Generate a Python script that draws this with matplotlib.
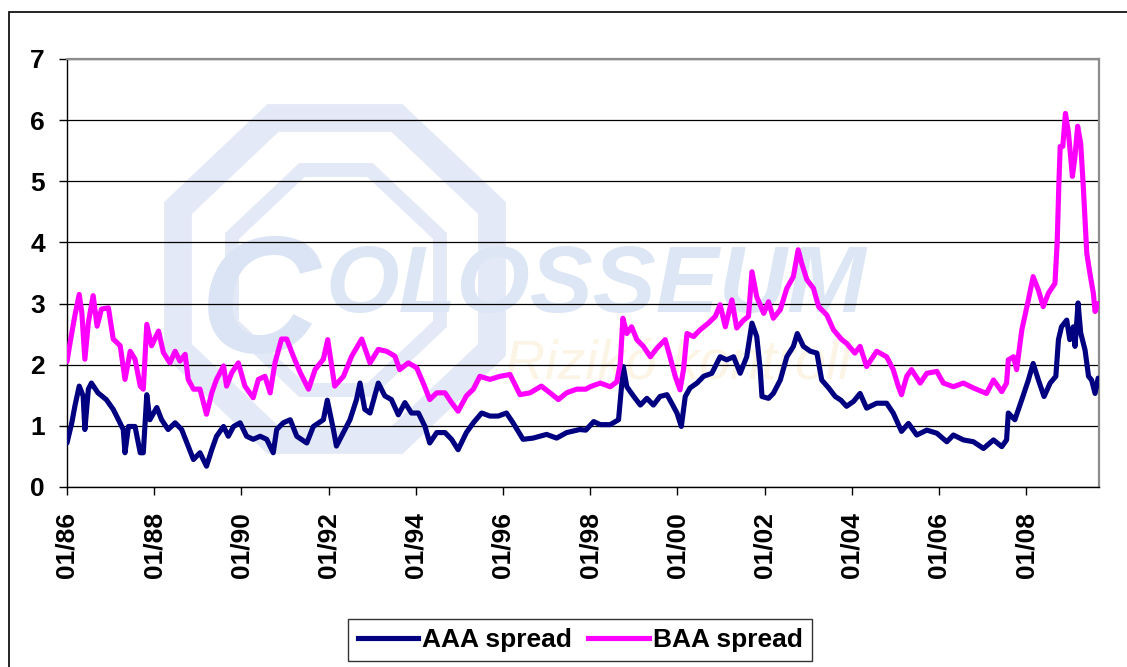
import matplotlib
matplotlib.use("Agg")
import matplotlib.pyplot as plt
from matplotlib.patches import Rectangle, Polygon
from matplotlib.lines import Line2D

plt.rcParams['font.family'] = ['Liberation Sans', 'DejaVu Sans']

# ---------------- data ----------------
baa_t = [1986.00, 1986.07, 1986.18, 1986.28, 1986.34, 1986.41, 1986.49, 1986.60, 1986.69, 1986.79,
         1986.95, 1987.06, 1987.22, 1987.33, 1987.45, 1987.56, 1987.68, 1987.75, 1987.83, 1987.94,
         1988.10, 1988.21, 1988.36, 1988.48, 1988.59, 1988.71, 1988.78, 1988.90, 1989.05, 1989.20,
         1989.32, 1989.43, 1989.59, 1989.66, 1989.78, 1989.93, 1990.08, 1990.27, 1990.39, 1990.54,
         1990.66, 1990.77, 1990.92, 1991.04, 1991.19, 1991.35, 1991.54, 1991.69, 1991.88, 1991.98,
         1992.14, 1992.34, 1992.53, 1992.76, 1992.95, 1993.14, 1993.33, 1993.52, 1993.63, 1993.83,
         1994.02, 1994.17, 1994.32, 1994.48, 1994.67, 1994.82, 1994.97, 1995.16, 1995.32, 1995.47,
         1995.70, 1995.93, 1996.16, 1996.39, 1996.62, 1996.88, 1997.08, 1997.27, 1997.46, 1997.69,
         1997.90, 1998.00, 1998.23, 1998.46, 1998.61, 1998.69, 1998.75, 1998.84, 1998.95, 1999.07,
         1999.22, 1999.38, 1999.53, 1999.72, 1999.83, 1999.95, 2000.06, 2000.14, 2000.22, 2000.37,
         2000.52, 2000.71, 2000.87, 2000.98, 2001.10, 2001.25, 2001.36, 2001.52, 2001.63, 2001.71,
         2001.82, 2001.98, 2002.09, 2002.20, 2002.36, 2002.51, 2002.66, 2002.77, 2002.85, 2002.97,
         2003.12, 2003.24, 2003.43, 2003.58, 2003.77, 2003.88, 2004.07, 2004.19, 2004.34, 2004.57,
         2004.80, 2004.95, 2005.07, 2005.14, 2005.26, 2005.37, 2005.57, 2005.72, 2005.95, 2006.10,
         2006.33, 2006.56, 2006.79, 2007.09, 2007.25, 2007.44, 2007.55, 2007.59, 2007.71, 2007.78,
         2007.90, 2008.05, 2008.16, 2008.28, 2008.39, 2008.51, 2008.66, 2008.71, 2008.75, 2008.78,
         2008.84, 2008.90, 2008.97, 2009.06, 2009.12, 2009.18, 2009.25, 2009.31, 2009.39, 2009.46,
         2009.54, 2009.58, 2009.65]
baa_v = [2.05, 2.36, 2.80, 3.15, 2.85, 2.09, 2.69, 3.13, 2.63, 2.91,
         2.93, 2.42, 2.31, 1.76, 2.22, 2.09, 1.65, 1.60, 2.66, 2.31,
         2.55, 2.20, 2.03, 2.22, 2.06, 2.17, 1.76, 1.60, 1.60, 1.19,
         1.54, 1.76, 1.98, 1.65, 1.87, 2.03, 1.65, 1.46, 1.76, 1.81,
         1.54, 2.03, 2.42, 2.42, 2.14, 1.87, 1.60, 1.92, 2.09, 2.41,
         1.65, 1.81, 2.14, 2.42, 2.03, 2.25, 2.22, 2.14, 1.92, 2.03,
         1.95, 1.70, 1.43, 1.54, 1.54, 1.38, 1.24, 1.49, 1.60, 1.81,
         1.76, 1.81, 1.84, 1.51, 1.54, 1.65, 1.54, 1.43, 1.54, 1.60,
         1.60, 1.64, 1.70, 1.64, 1.72, 2.02, 2.76, 2.51, 2.62, 2.41,
         2.30, 2.13, 2.27, 2.41, 2.13, 1.81, 1.59, 1.92, 2.51, 2.46,
         2.57, 2.68, 2.79, 2.98, 2.62, 3.06, 2.60, 2.73, 2.79, 3.52,
         3.11, 2.84, 3.03, 2.76, 2.90, 3.25, 3.44, 3.88, 3.66, 3.39,
         3.25, 2.95, 2.81, 2.57, 2.41, 2.35, 2.19, 2.30, 1.97, 2.22,
         2.13, 1.92, 1.64, 1.51, 1.81, 1.92, 1.70, 1.86, 1.89, 1.70,
         1.64, 1.70, 1.62, 1.53, 1.75, 1.56, 1.70, 2.08, 2.13, 1.92,
         2.57, 3.06, 3.44, 3.22, 2.95, 3.17, 3.33, 3.99, 4.97, 5.57,
         5.57, 6.11, 5.79, 5.08, 5.41, 5.90, 5.62, 4.91, 3.82, 3.50,
         3.17, 2.87, 3.00]

aaa_t = [1986.00, 1986.11, 1986.18, 1986.28, 1986.37, 1986.41, 1986.49, 1986.56, 1986.71, 1986.90,
         1987.06, 1987.18, 1987.29, 1987.33, 1987.41, 1987.56, 1987.68, 1987.75, 1987.83, 1987.90,
         1988.06, 1988.17, 1988.32, 1988.48, 1988.63, 1988.78, 1988.90, 1989.05, 1989.20, 1989.32,
         1989.43, 1989.59, 1989.70, 1989.82, 1989.97, 1990.12, 1990.27, 1990.43, 1990.58, 1990.73,
         1990.81, 1990.96, 1991.12, 1991.27, 1991.50, 1991.65, 1991.88, 1991.97, 1992.11, 1992.18,
         1992.34, 1992.49, 1992.64, 1992.72, 1992.83, 1992.95, 1993.14, 1993.29, 1993.44, 1993.60,
         1993.75, 1993.90, 1994.06, 1994.21, 1994.32, 1994.48, 1994.67, 1994.82, 1994.97, 1995.16,
         1995.32, 1995.51, 1995.70, 1995.89, 1996.08, 1996.23, 1996.46, 1996.69, 1997.00, 1997.23,
         1997.46, 1997.76, 1997.90, 1998.08, 1998.23, 1998.46, 1998.65, 1998.76, 1998.84, 1999.00,
         1999.15, 1999.30, 1999.45, 1999.60, 1999.76, 1999.87, 1999.99, 2000.09, 2000.18, 2000.29,
         2000.45, 2000.60, 2000.79, 2000.98, 2001.13, 2001.29, 2001.44, 2001.59, 2001.71, 2001.82,
         2001.90, 2001.94, 2002.09, 2002.20, 2002.36, 2002.51, 2002.66, 2002.75, 2002.89, 2003.05,
         2003.20, 2003.31, 2003.47, 2003.62, 2003.75, 2003.88, 2004.04, 2004.19, 2004.34, 2004.57,
         2004.80, 2004.95, 2005.14, 2005.30, 2005.49, 2005.72, 2005.95, 2006.18, 2006.33, 2006.56,
         2006.79, 2007.02, 2007.25, 2007.44, 2007.55, 2007.59, 2007.74, 2007.90, 2008.05, 2008.16,
         2008.28, 2008.41, 2008.55, 2008.68, 2008.74, 2008.81, 2008.93, 2009.00, 2009.08, 2009.12,
         2009.19, 2009.25, 2009.35, 2009.43, 2009.50, 2009.58, 2009.65]
aaa_v = [0.72, 1.05, 1.32, 1.65, 1.49, 0.94, 1.60, 1.70, 1.54, 1.43,
         1.27, 1.10, 0.94, 0.56, 0.99, 0.99, 0.56, 0.56, 1.51, 1.10,
         1.30, 1.10, 0.94, 1.05, 0.94, 0.67, 0.45, 0.56, 0.34, 0.61,
         0.83, 0.99, 0.83, 0.99, 1.05, 0.83, 0.78, 0.83, 0.78, 0.56,
         0.94, 1.05, 1.10, 0.83, 0.72, 0.99, 1.10, 1.42, 0.94, 0.67,
         0.89, 1.10, 1.43, 1.70, 1.27, 1.21, 1.70, 1.49, 1.43, 1.18,
         1.38, 1.21, 1.21, 0.99, 0.72, 0.89, 0.89, 0.78, 0.61, 0.89,
         1.05, 1.21, 1.16, 1.16, 1.21, 1.05, 0.78, 0.80, 0.86, 0.80,
         0.89, 0.94, 0.93, 1.07, 1.02, 1.02, 1.10, 1.97, 1.64, 1.48,
         1.34, 1.45, 1.34, 1.48, 1.51, 1.37, 1.21, 0.99, 1.48, 1.62,
         1.70, 1.81, 1.86, 2.13, 2.08, 2.13, 1.86, 2.13, 2.68, 2.46,
         1.92, 1.48, 1.45, 1.53, 1.75, 2.13, 2.30, 2.51, 2.30, 2.22,
         2.19, 1.75, 1.62, 1.48, 1.42, 1.32, 1.40, 1.53, 1.29, 1.37,
         1.37, 1.21, 0.91, 1.04, 0.85, 0.93, 0.88, 0.74, 0.85, 0.77,
         0.74, 0.63, 0.77, 0.66, 0.77, 1.21, 1.10, 1.43, 1.75, 2.02,
         1.75, 1.48, 1.70, 1.81, 2.41, 2.62, 2.73, 2.41, 2.62, 2.30,
         3.01, 2.52, 2.24, 1.81, 1.75, 1.53, 1.78]

tick_years = [1986, 1988, 1990, 1992, 1994, 1996, 1998, 2000, 2002, 2004, 2006, 2008]
tick_labels = ['01/86', '01/88', '01/90', '01/92', '01/94', '01/96', '01/98',
               '01/00', '01/02', '01/04', '01/06', '01/08']
y_ticks = [0, 1, 2, 3, 4, 5, 6, 7]
series_names = ['AAA spread', 'BAA spread']

# ---------------- figure ----------------
W, H = 1127, 667
fig = plt.figure(figsize=(W / 100, H / 100), dpi=100)
fig.patch.set_facecolor('white')

def fx(px):
    return px / W

def fy(py):
    return 1 - py / H

# outer chart-area frame (cut at right and bottom)
fig.add_artist(Rectangle((fx(9), -0.1), 1.2, fy(12) + 0.1, transform=fig.transFigure,
                         fill=False, edgecolor='black', linewidth=1.2, clip_on=False, zorder=0))

ax = fig.add_axes([fx(67), fy(487), fx(1099) - fx(67), fy(59) - fy(487)])
ax.set_facecolor('none')
ax.set_zorder(2)

# faint watermark (logo) behind the plot
wm_col = '#e3e9f6'
def octagon(x0, x1, y0, y1, cx, cy):
    pts = [(x0 + cx, y0), (x1 - cx, y0), (x1, y0 + cy), (x1, y1 - cy),
           (x1 - cx, y1), (x0 + cx, y1), (x0, y1 - cy), (x0, y0 + cy)]
    return [(fx(a), fy(b)) for a, b in pts]

fig.add_artist(Polygon(octagon(178, 492, 118, 440, 95, 90), closed=True, fill=False,
                       edgecolor=wm_col, linewidth=20, transform=fig.transFigure, zorder=0.5))
fig.add_artist(Polygon(octagon(232, 440, 170, 390, 70, 66), closed=True, fill=False,
                       edgecolor=wm_col, linewidth=10, transform=fig.transFigure, zorder=0.5))
fig.text(fx(200), fy(352), 'C', fontsize=120, fontweight='bold', style='italic',
         color='#dbe4f4', ha='left', va='baseline', zorder=0.6)
fig.text(fx(325), fy(312), 'OLOSSEUM', fontsize=68, fontweight='bold', style='italic',
         color='#dde6f5', ha='left', va='baseline', zorder=0.6)
fig.text(fx(505), fy(378), 'Rizikó kontroll', fontsize=40, style='italic',
         color='#fcf4e4', ha='left', va='baseline', zorder=0.6)

# data lines
ax.plot(aaa_t, aaa_v, color='#000080', linewidth=3.7, solid_joinstyle='round',
        solid_capstyle='round', label=series_names[0], zorder=3)
ax.plot(baa_t, baa_v, color='#FF00FF', linewidth=3.7, solid_joinstyle='round',
        solid_capstyle='round', label=series_names[1], zorder=3)

ax.set_xlim(1986.0, 2009.67)
ax.set_ylim(0, 7)
ax.set_yticks(y_ticks)
ax.set_xticks(tick_years)
ax.set_xticklabels(tick_labels, rotation=90, fontsize=19, fontweight='bold')
ax.set_yticklabels([str(v) for v in y_ticks], fontsize=19, fontweight='bold')
ax.tick_params(axis='x', direction='out', length=6, width=1, color='black', pad=12)
ax.tick_params(axis='y', direction='out', length=6, width=1, color='black', pad=10)

ax.yaxis.grid(True, color='black', linewidth=0.9)
ax.xaxis.grid(False)
ax.set_axisbelow(True)

for side in ('left', 'bottom'):
    ax.spines[side].set_color('black')
    ax.spines[side].set_linewidth(1.0)
for side in ('top', 'right'):
    ax.spines[side].set_color('#8c8c8c')
    ax.spines[side].set_linewidth(1.6)

handles = [Line2D([], [], color='#000080', linewidth=3.7),
           Line2D([], [], color='#FF00FF', linewidth=3.7)]
leg = fig.legend(handles, series_names, loc='center', bbox_to_anchor=(fx(580), fy(640)),
                 ncol=2, frameon=True, fancybox=False, shadow=False,
                 prop={'size': 19, 'weight': 'bold'}, handlelength=2.3,
                 handletextpad=0.15, columnspacing=0.6, borderpad=0.35, borderaxespad=0)
leg.get_frame().set_edgecolor('black')
leg.get_frame().set_linewidth(1.0)

fig.savefig('out.png', dpi=100, facecolor='white')
